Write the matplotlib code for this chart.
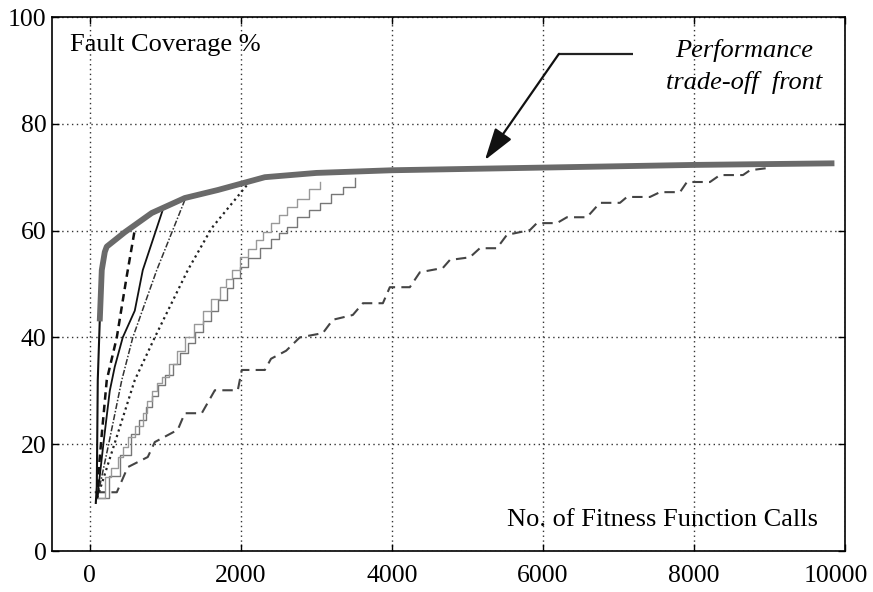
import matplotlib
matplotlib.use("Agg")
import matplotlib.pyplot as plt
import matplotlib.transforms as mtransforms

plt.rcParams['font.family'] = ['Liberation Serif', 'DejaVu Serif']

# ---- data ----
front_x = [132, 159, 199, 225, 464, 821, 1258, 1695, 2318, 3000, 4000, 6000, 8000, 9860]
front_y = [43, 52.6, 56.0, 57.0, 59.7, 63.3, 66.1, 67.6, 70.0, 70.8, 71.3, 71.8, 72.3, 72.6]

c1_x = [80, 93, 106, 132]
c1_y = [9, 12, 32, 43]

c2_x = [100, 160, 225, 358, 490, 600]
c2_y = [12, 22, 32, 40, 51.5, 60.5]

c3_x = [100, 180, 265, 331, 437, 596, 702, 967]
c3_y = [10, 20, 30, 34.5, 40, 45, 52.6, 63.9]

c4_x = [100, 250, 424, 570, 887, 1258]
c4_y = [10, 20, 32, 40, 52.6, 65.7]

c5_x = [100, 371, 596, 861, 1298, 1616, 2080]
c5_y = [10, 22, 32, 40, 52.6, 60.5, 68.5]

c6_x = [100, 199, 280, 371, 440, 503, 600, 702, 760, 821, 890, 954, 1050, 1150, 1258, 1380,
        1500, 1610, 1722, 1800, 1881, 1987, 2100, 2200, 2291, 2400, 2500, 2609, 2750, 2900, 3046]
c6_y = [10, 13.9, 15.5, 17.6, 19.5, 21.3, 23.5, 25.8, 28, 30, 31.5, 32.6, 35, 37.5, 40, 42.5,
        45, 47.2, 49.4, 51, 52.6, 55, 56.5, 58.2, 59.7, 61.5, 63, 64.4, 66, 67.8, 69.1]

c7_x = [100, 250, 400, 550, 650, 750, 830, 900, 1000, 1100, 1200, 1300, 1400, 1500, 1600,
        1700, 1815, 1900, 1987, 2100, 2252, 2400, 2500, 2609, 2750, 2900, 3046, 3200, 3350, 3510]
c7_y = [10, 14, 18, 22, 24.5, 27, 29, 31, 33, 35, 37, 39, 41, 43, 45,
        47, 49.3, 51.2, 53.2, 54.8, 56.7, 58.5, 59.6, 60.7, 62.5, 63.8, 65.2, 66.8, 68.2, 69.8]

c8_x = [66, 358, 503, 768, 861, 1165, 1258, 1483, 1656, 1960, 2013, 2318, 2400, 2600, 2781,
        3086, 3218, 3483, 3616, 3881, 3973, 4238, 4371, 4675, 4768, 5033, 5165, 5391, 5523,
        5828, 5920, 6185, 6318, 6583, 6755, 7020, 7113, 7417, 7550, 7815, 7907, 8212, 8344,
        8649, 8742, 8967, 9006]
c8_y = [11, 11, 15.7, 17.6, 20.4, 22.7, 25.8, 25.8, 30.1, 30.1, 33.9, 33.9, 36, 37.5, 40,
        40.8, 43.3, 44.2, 46.4, 46.4, 49.4, 49.4, 52.2, 53, 54.5, 55, 56.7, 56.7, 59.2,
        60.1, 61.4, 61.4, 62.5, 62.5, 65.2, 65.2, 66.3, 66.3, 67.2, 67.2, 69.1, 69.1, 70.4,
        70.4, 71.3, 71.7, 72.3]

x_ticks = [0, 2000, 4000, 6000, 8000, 10000]
y_ticks = [0, 20, 40, 60, 80, 100]

# ---- figure ----
fig = plt.figure(figsize=(8.73, 5.92), dpi=100)
ax = fig.add_axes([52 / 873, 41 / 592, 793 / 873, 534 / 592])

ax.plot(c8_x, c8_y, color='#444444', lw=1.5, dashes=(5, 3))
ax.plot(c7_x, c7_y, color='#777777', lw=1.0, drawstyle='steps-post')
ax.plot(c6_x, c6_y, color='#999999', lw=1.0, drawstyle='steps-post')
ax.plot(c5_x, c5_y, color='#222222', lw=1.6, dashes=(1, 1.6))
ax.plot(c4_x, c4_y, color='#333333', lw=1.1, dashes=(4, 1.2, 1, 1.2))
ax.plot(c3_x, c3_y, color='#111111', lw=1.3)
ax.plot(c2_x, c2_y, color='#111111', lw=1.8, dashes=(3, 2))
ax.plot(c1_x, c1_y, color='#111111', lw=1.5)
ax.plot(front_x, front_y, color='#6a6a6a', lw=4.2, solid_capstyle='butt')

ax.set_xlim(-500, 10000)
ax.set_ylim(0, 100)
ax.set_xticks(x_ticks)
ax.set_yticks(y_ticks)
ax.set_xticklabels([str(v) for v in x_ticks])
ax.set_yticklabels([str(v) for v in y_ticks])
ax.tick_params(direction='in', length=5, width=1, top=True, right=True,
               labelsize=18.5, colors='black')
ax.tick_params(axis='x', pad=10)
ax.tick_params(axis='y', pad=4)
for s in ax.spines.values():
    s.set_linewidth(1.2)
    s.set_color('black')

# shift the last x tick label slightly left (as in the reference)
last = ax.get_xticklabels()[-1]
last.set_transform(last.get_transform() +
                   mtransforms.ScaledTranslation(-9 / 100, 0, fig.dpi_scale_trans))

ax.grid(True, linestyle=(0, (1, 2.5)), color='#333333', lw=1.0)
ax.set_axisbelow(True)

ax.text(0.023, 0.947, 'Fault Coverage %', transform=ax.transAxes,
        ha='left', va='center', fontsize=19)
ax.text(0.966, 0.058, 'No. of Fitness Function Calls', transform=ax.transAxes,
        ha='right', va='center', fontsize=19)
ax.text(0.873, 0.938, 'Performance', transform=ax.transAxes,
        ha='center', va='center', fontsize=19, style='italic')
ax.text(0.873, 0.877, 'trade-off  front', transform=ax.transAxes,
        ha='center', va='center', fontsize=19, style='italic')

# annotation arrow
ax.plot([7192, 6212], [93.1, 93.1], color='#222222', lw=1.6, solid_capstyle='butt')
ax.annotate('', xy=(5232, 73.2), xytext=(6212, 93.1),
            arrowprops=dict(arrowstyle='-|>,head_length=0.9,head_width=0.28',
                            color='#111111', lw=1.6, mutation_scale=22,
                            shrinkA=0, shrinkB=0))

fig.savefig('out.png', dpi=100, facecolor='white')
